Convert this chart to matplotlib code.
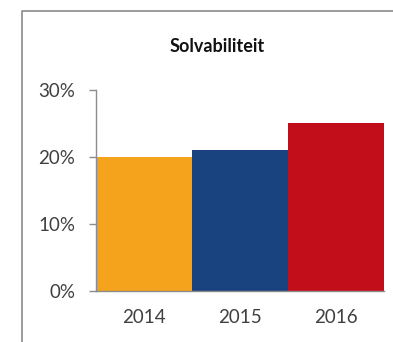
import matplotlib
matplotlib.use("Agg")
import matplotlib.pyplot as plt
from matplotlib.lines import Line2D
from matplotlib.ticker import PercentFormatter

years = ["2014", "2015", "2016"]
solvency = [0.20, 0.21, 0.25]
bar_colors = ["#F5A31C", "#18437F", "#C20E1B"]
y_ticks = [0.0, 0.1, 0.2, 0.3]

plt.rcParams["font.family"] = ["Lato", "DejaVu Sans"]

W, H = 393, 342
fig = plt.figure(figsize=(W / 100, H / 100), dpi=100)
fig.patch.set_facecolor("white")

# chart frame (only top and left edges are in view)
fig.add_artist(Line2D([22 / W, 22 / W, 1], [0, 1 - 11 / H, 1 - 11 / H],
                      transform=fig.transFigure, color="#8a8a8a", lw=1.2))

ax = fig.add_axes([96 / W, 51.5 / H, 288 / W, 200.5 / H])
ax.bar(range(len(years)), solvency, width=1.0, color=bar_colors)

ax.set_xlim(-0.5, len(years) - 0.5)
ax.set_ylim(0, 0.30)
ax.set_yticks(y_ticks)
ax.yaxis.set_major_formatter(PercentFormatter(1.0, decimals=0))
ax.set_xticks(range(len(years)))
ax.set_xticklabels(years)

for side in ("top", "right"):
    ax.spines[side].set_visible(False)
for side in ("left", "bottom"):
    ax.spines[side].set_color("#8c8c8c")
    ax.spines[side].set_linewidth(1.0)

ax.tick_params(axis="y", direction="out", length=5, width=1.0, color="#8c8c8c",
               pad=10, labelsize=13.5, labelcolor="#404040")
ax.tick_params(axis="x", length=0, pad=13, labelsize=13.5, labelcolor="#404040")

fig.text(217 / W, 1 - 47 / H, "Solvabiliteit", ha="center", va="center",
         fontsize=13, fontweight="bold", color="#111111")

fig.savefig("out.png", dpi=100)
